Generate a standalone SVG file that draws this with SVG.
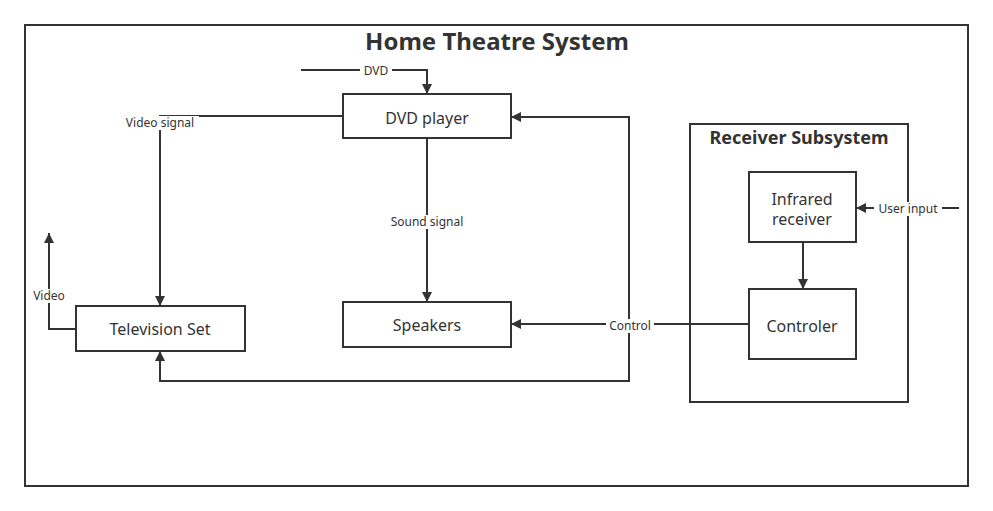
<svg xmlns="http://www.w3.org/2000/svg" width="993" height="511" viewBox="0 0 993 511">
<style>
.box{fill:#fff;stroke:#333;stroke-width:2}
.frame{fill:none;stroke:#333;stroke-width:2}
.ln{fill:none;stroke:#333;stroke-width:2}
.t{font-family:"Noto Sans","Open Sans",sans-serif;fill:#333;text-anchor:middle}
.nl{font-size:16px}
.lb{font-size:12px}
.ttl{font-size:24px;font-weight:bold}
.sub{font-size:18px;font-weight:bold}
.bg{fill:#fff}
</style>
<defs>
<marker id="ah" viewBox="0 0 10 10" refX="10" refY="5" markerWidth="12" markerHeight="10" markerUnits="userSpaceOnUse" orient="auto">
<path d="M0,0 L10,5 L0,10 z" fill="#333"/>
</marker>
</defs>
<rect width="993" height="511" fill="#fff"/>
<g id="system">
<rect class="frame" x="25" y="25" width="943" height="461"/>
<text class="t ttl" x="497" y="50">Home Theatre System</text>
</g>
<g id="receiver-subsystem">
<rect class="frame" x="690" y="124" width="218" height="278"/>
<text class="t sub" x="799" y="144">Receiver Subsystem</text>
</g>
<g id="connectors">
<path class="ln" d="M301,70 H427 V94" marker-end="url(#ah)"/>
<path class="ln" d="M343,116 H160 V306" marker-end="url(#ah)"/>
<path class="ln" d="M427,138 V302" marker-end="url(#ah)"/>
<path class="ln" d="M76,329 H49 V233" marker-end="url(#ah)"/>
<path class="ln" d="M749,324 H511" marker-end="url(#ah)"/>
<path class="ln" d="M629,324 V117 H511" marker-end="url(#ah)"/>
<path class="ln" d="M629,324 V381 H160 V351" marker-end="url(#ah)"/>
<path class="ln" d="M803,242 V289" marker-end="url(#ah)"/>
<path class="ln" d="M959,208 H856" marker-end="url(#ah)"/>
<rect class="bg" x="360" y="64" width="32" height="14"/>
<text class="t lb" x="376" y="75">DVD</text>
<rect class="bg" x="121" y="116" width="78" height="14"/>
<text class="t lb" x="160" y="127">Video signal</text>
<rect class="bg" x="386" y="215" width="82" height="14"/>
<text class="t lb" x="427" y="226">Sound signal</text>
<rect class="bg" x="30" y="289" width="38" height="14"/>
<text class="t lb" x="49" y="300">Video</text>
<rect class="bg" x="606" y="319" width="48" height="14"/>
<text class="t lb" x="630" y="330">Control</text>
<rect class="bg" x="874" y="202" width="68" height="14"/>
<text class="t lb" x="908" y="213">User input</text>
</g>
<g id="dvd-player">
<rect class="box" x="343" y="94" width="168" height="44"/>
<text class="t nl" x="427" y="124">DVD player</text>
</g>
<g id="television-set">
<rect class="box" x="76" y="306" width="169" height="45"/>
<text class="t nl" x="160" y="335">Television Set</text>
</g>
<g id="speakers">
<rect class="box" x="343" y="302" width="168" height="45"/>
<text class="t nl" x="427" y="331">Speakers</text>
</g>
<g id="infrared-receiver">
<rect class="box" x="749" y="172" width="107" height="70"/>
<text class="t nl" x="802" y="205">Infrared</text>
<text class="t nl" x="802" y="225">receiver</text>
</g>
<g id="controler">
<rect class="box" x="749" y="289" width="107" height="70"/>
<text class="t nl" x="802" y="332">Controler</text>
</g>
</svg>
